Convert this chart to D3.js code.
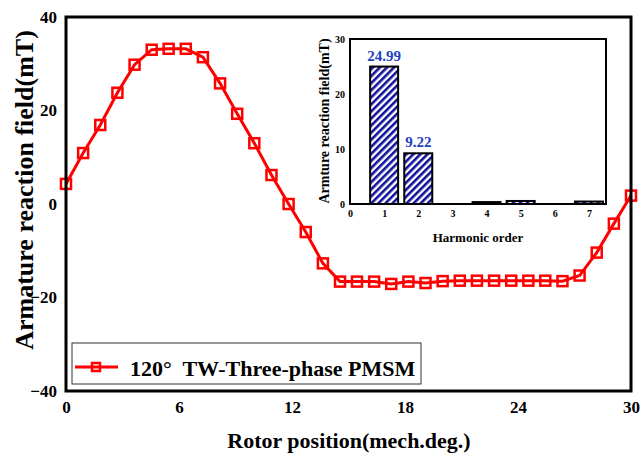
<!DOCTYPE html>
<html>
<head>
<meta charset="utf-8">
<script src="https://cdn.jsdelivr.net/npm/d3@7"></script>
<style>
  body { margin: 0; background: #fff; }
  svg text { font-family: "Liberation Serif", "Tinos", "DejaVu Serif", serif !important; font-weight: bold; }
</style>
</head>
<body>
<div id="chart"></div>
<script>
// main curve: rotor position (mech. deg) vs armature reaction field (mT)
const rotorPos = [0, 0.91, 1.82, 2.73, 3.64, 4.55, 5.45, 6.36, 7.27, 8.18, 9.09, 10, 10.91, 11.82,
  12.73, 13.64, 14.55, 15.45, 16.36, 17.27, 18.18, 19.09, 20, 20.91, 21.82, 22.73, 23.64, 24.55,
  25.45, 26.36, 27.27, 28.18, 29.09, 30];
const fieldVals = [4.3, 10.9, 16.9, 23.8, 29.8, 33.0, 33.2, 33.2, 31.4, 25.8, 19.3, 13.0, 6.2, 0.0,
  -6.0, -12.7, -16.6, -16.6, -16.6, -17.1, -16.6, -16.9, -16.5, -16.4, -16.4, -16.4, -16.4, -16.4,
  -16.4, -16.5, -15.3, -10.4, -4.2, 1.8];
const xTicks = [0, 6, 12, 18, 24, 30];
const yTicks = [-40, -20, 0, 20, 40];
const seriesName = "120°  TW-Three-phase PMSM";

// inset: harmonic spectrum
const harmOrder = [1, 2, 3, 4, 5, 6, 7];
const harmAmp = [24.99, 9.22, 0, 0.35, 0.55, 0, 0.45];
const harmLabels = ["24.99", "9.22", "", "", "", "", ""];
const insetXTicks = [0, 1, 2, 3, 4, 5, 6, 7];
const insetYTicks = [0, 10, 20, 30];

const W = 642, H = 458;
const FONT = "Liberation Serif, Tinos, DejaVu Serif, serif";
const svg = d3.select("#chart").append("svg")
  .attr("width", W).attr("height", H)
  .attr("font-family", FONT);

const defs = svg.append("defs");
const hatch = defs.append("pattern")
  .attr("id", "hatch")
  .attr("patternUnits", "userSpaceOnUse")
  .attr("width", 5).attr("height", 5)
  .attr("patternTransform", "rotate(45)");
hatch.append("rect").attr("width", 5).attr("height", 5).attr("fill", "#fff");
hatch.append("line")
  .attr("x1", 1.3).attr("y1", 0).attr("x2", 1.3).attr("y2", 5)
  .attr("stroke", "#10109a").attr("stroke-width", 2.6);

// ---- main plot
const x = d3.scaleLinear().domain([0, 30]).range([66, 631]);
const y = d3.scaleLinear().domain([-40, 40]).range([391, 17]);

function styleTicks(g, size) {
  g.select(".domain").remove();
  g.attr("font-family", FONT);
  g.selectAll("text").attr("font-size", size).attr("fill", "#000")
    .attr("font-weight", "bold");
}

const xAxis = svg.append("g").attr("transform", "translate(0,391)")
  .call(d3.axisBottom(x).tickValues(xTicks).tickSize(0).tickPadding(10));
styleTicks(xAxis, 17);

const yAxis = svg.append("g").attr("transform", "translate(66,0)")
  .call(d3.axisLeft(y).tickValues(yTicks).tickSize(0).tickPadding(9));
styleTicks(yAxis, 17);

svg.append("text")
  .attr("transform", "translate(33,190) rotate(-90)")
  .attr("text-anchor", "middle")
  .attr("font-size", 26)
  .text("Armature reaction field(mT)");

svg.append("text")
  .attr("x", 349).attr("y", 448)
  .attr("text-anchor", "middle")
  .attr("font-size", 22)
  .text("Rotor position(mech.deg.)");

const pts = rotorPos.map((d, i) => [d, fieldVals[i]]);

svg.append("path")
  .datum(pts)
  .attr("fill", "none")
  .attr("stroke", "#ff0000")
  .attr("stroke-width", 3)
  .attr("d", d3.line().x(d => x(d[0])).y(d => y(d[1])));

svg.selectAll(".mk")
  .data(pts)
  .enter().append("rect")
  .attr("class", "mk")
  .attr("x", d => x(d[0]) - 5).attr("y", d => y(d[1]) - 5)
  .attr("width", 10).attr("height", 10)
  .attr("fill", "none").attr("stroke", "#ff0000").attr("stroke-width", 2.5);

// legend
svg.append("rect")
  .attr("x", 72).attr("y", 343).attr("width", 349).attr("height", 41)
  .attr("fill", "#fff").attr("stroke", "#333").attr("stroke-width", 1);
svg.append("line")
  .attr("x1", 75).attr("x2", 118).attr("y1", 367).attr("y2", 367)
  .attr("stroke", "#ff0000").attr("stroke-width", 3);
svg.append("rect")
  .attr("x", 92).attr("y", 363).attr("width", 8).attr("height", 8)
  .attr("fill", "none").attr("stroke", "#ff0000").attr("stroke-width", 2.5);
svg.append("text")
  .attr("x", 130).attr("y", 376)
  .attr("font-size", 22)
  .style("white-space", "pre")
  .text(seriesName);

// main frame
svg.append("rect")
  .attr("x", 66).attr("y", 17).attr("width", 565).attr("height", 374)
  .attr("fill", "none").attr("stroke", "#000").attr("stroke-width", 3);

// ---- inset bar chart
const ix = d3.scaleLinear().domain([0, 7.5]).range([350, 606]);
const iy = d3.scaleLinear().domain([0, 30]).range([204, 39]);

svg.append("rect")
  .attr("x", 350).attr("y", 39).attr("width", 256).attr("height", 165)
  .attr("fill", "#fff");

const bars = harmOrder.map((o, i) => ({ o: o, v: harmAmp[i], lab: harmLabels[i] }))
  .filter(d => d.v > 0);

svg.selectAll(".bar")
  .data(bars)
  .enter().append("rect")
  .attr("class", "bar")
  .attr("x", d => ix(d.o - 0.41))
  .attr("y", d => iy(d.v))
  .attr("width", ix(0.82) - ix(0))
  .attr("height", d => iy(0) - iy(d.v))
  .attr("fill", "url(#hatch)")
  .attr("stroke", "#000").attr("stroke-width", 2);

svg.selectAll(".blab")
  .data(bars.filter(d => d.lab))
  .enter().append("text")
  .attr("class", "blab")
  .attr("x", d => ix(d.o))
  .attr("y", d => iy(d.v) - 6)
  .attr("text-anchor", "middle")
  .attr("font-size", 15)
  .attr("fill", "#1f3fbf")
  .text(d => d.lab);

const ixAxis = svg.append("g").attr("transform", "translate(0,204)")
  .call(d3.axisBottom(ix).tickValues(insetXTicks).tickSize(0).tickPadding(6));
styleTicks(ixAxis, 10);

const iyAxis = svg.append("g").attr("transform", "translate(350,0)")
  .call(d3.axisLeft(iy).tickValues(insetYTicks).tickSize(0).tickPadding(5));
styleTicks(iyAxis, 10);

svg.append("rect")
  .attr("x", 350).attr("y", 39).attr("width", 256).attr("height", 165)
  .attr("fill", "none").attr("stroke", "#000").attr("stroke-width", 2);

svg.append("text")
  .attr("transform", "translate(329,121) rotate(-90)")
  .attr("text-anchor", "middle")
  .attr("font-size", 14)
  .text("Armture reaction field(mT)");

svg.append("text")
  .attr("x", 478).attr("y", 242)
  .attr("text-anchor", "middle")
  .attr("font-size", 13)
  .text("Harmonic order");
</script>
</body>
</html>
